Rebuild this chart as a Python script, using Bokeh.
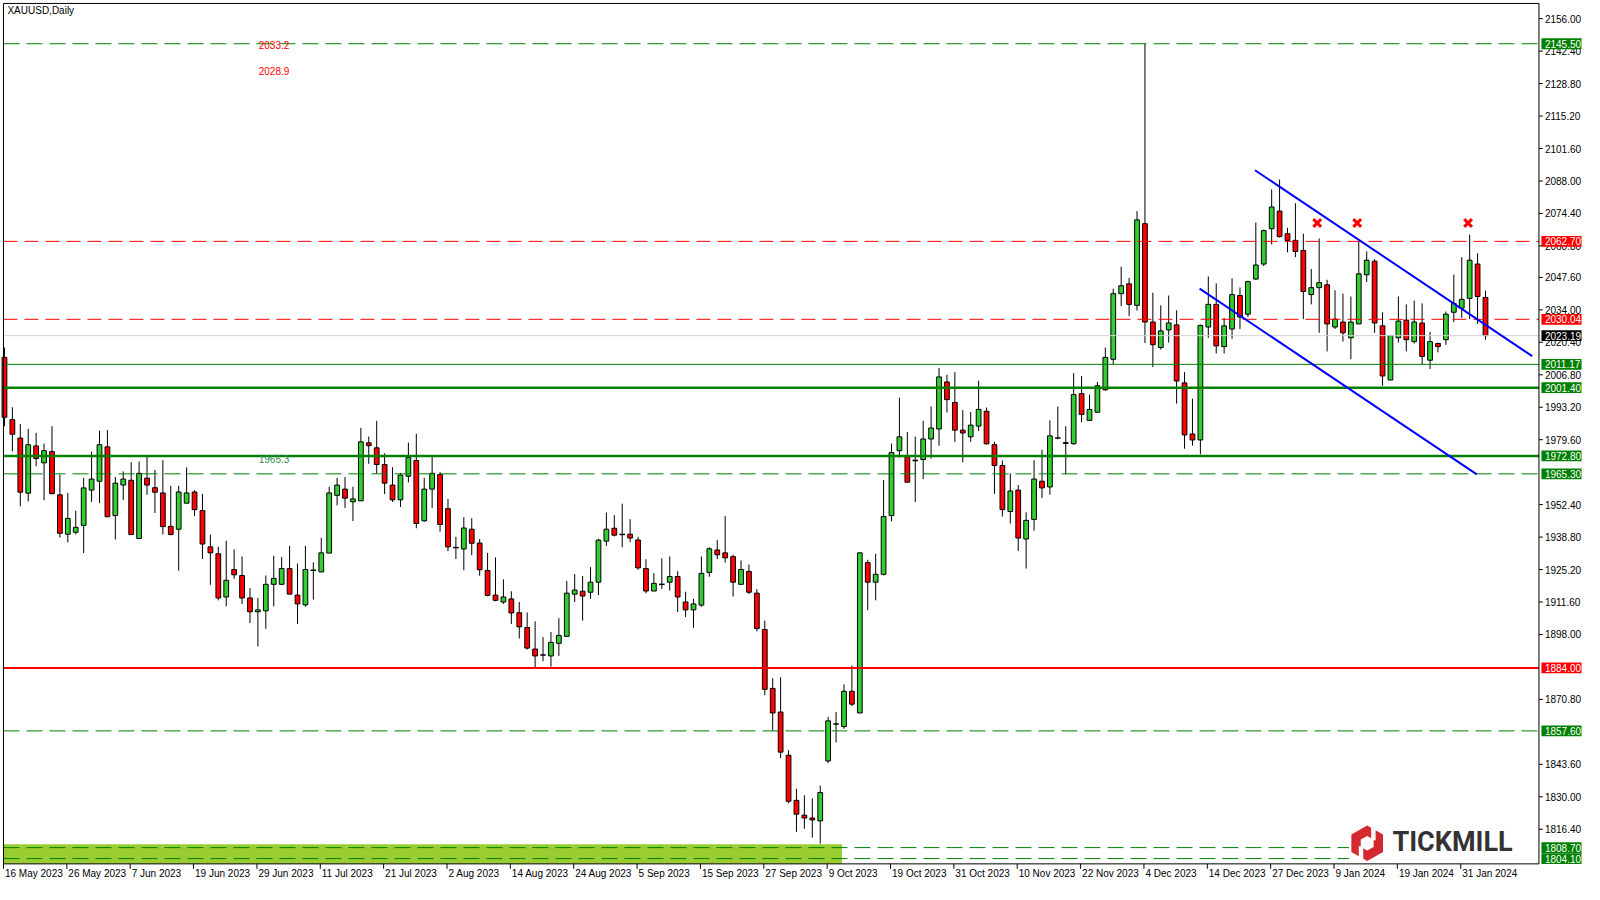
from bokeh.plotting import figure
from bokeh.models import Range1d
from bokeh.core.properties import value
from bokeh.embed import file_html
from bokeh.resources import INLINE

# ---------------- data ----------------
date_labels = ["16 May 2023", "26 May 2023", "7 Jun 2023", "19 Jun 2023", "29 Jun 2023",
               "11 Jul 2023", "21 Jul 2023", "2 Aug 2023", "14 Aug 2023", "24 Aug 2023",
               "5 Sep 2023", "15 Sep 2023", "27 Sep 2023", "9 Oct 2023", "19 Oct 2023",
               "31 Oct 2023", "10 Nov 2023", "22 Nov 2023", "4 Dec 2023", "14 Dec 2023",
               "27 Dec 2023", "9 Jan 2024", "19 Jan 2024", "31 Jan 2024"]
label_every = 8

opens = [2014.1, 1988.0, 1980.3, 1957.2, 1977.0, 1969.9, 1974.6, 1956.5, 1940.0, 1940.8,
         1943.7, 1958.5, 1962.2, 1976.6, 1947.8, 1960.6, 1962.6, 1938.2, 1963.5, 1959.5,
         1957.3, 1943.3, 1942.1, 1953.0, 1957.7, 1949.9, 1934.7, 1931.8, 1913.7, 1925.2,
         1922.7, 1913.3, 1907.5, 1907.9, 1919.0, 1919.0, 1925.6, 1914.5, 1910.4, 1924.9,
         1924.2, 1932.1, 1956.3, 1958.9, 1953.6, 1954.0, 1978.3, 1976.2, 1969.2, 1960.6,
         1954.4, 1964.3, 1970.9, 1945.6, 1958.9, 1965.0, 1950.7, 1934.4, 1933.8, 1942.1,
         1936.3, 1924.8, 1914.5, 1911.6, 1912.9, 1907.1, 1900.9, 1891.9, 1889.4, 1889.0,
         1894.3, 1897.2, 1914.9, 1916.1, 1915.7, 1919.9, 1937.1, 1942.5, 1939.9, 1940.0,
         1937.6, 1925.6, 1916.2, 1919.0, 1919.9, 1922.3, 1911.6, 1908.3, 1910.3, 1924.0,
         1933.4, 1932.2, 1930.6, 1919.0, 1924.4, 1915.3, 1900.1, 1875.4, 1865.5, 1847.4,
         1828.5, 1822.3, 1821.1, 1819.9, 1845.0, 1860.5, 1859.4, 1874.2, 1865.1, 1928.1,
         1919.9, 1923.2, 1947.8, 1975.0, 1972.5, 1970.9, 1971.3, 1979.9, 1984.1, 2003.8,
         1995.2, 1983.6, 1980.8, 1985.3, 1991.5, 1977.5, 1968.8, 1949.5, 1958.5, 1938.0,
         1946.2, 1962.2, 1959.8, 1980.3, 1978.4, 1977.9, 1998.9, 1987.7, 1991.1, 2000.5,
         2013.3, 2040.8, 2044.9, 2035.9, 2070.1, 2028.9, 2018.2, 2025.6, 2027.7, 2003.4,
         1982.0, 1979.5, 2026.8, 2036.3, 2018.6, 2026.0, 2040.0, 2032.2, 2046.9, 2053.2,
         2068.0, 2075.4, 2065.9, 2063.1, 2058.9, 2040.4, 2043.3, 2044.5, 2026.8, 2028.9,
         2022.3, 2028.1, 2048.7, 2054.4, 2027.3, 2004.6, 2022.3, 2029.7, 2020.7, 2028.5,
         2012.9, 2019.9, 2021.5, 2033.0, 2034.7, 2038.8, 2053.2, 2039.2]
highs = [2018.2, 1993.2, 1986.2, 1984.2, 1982.5, 1978.0, 1985.3, 1965.0, 1957.3, 1949.9,
         1963.6, 1974.6, 1983.4, 1983.6, 1964.0, 1966.3, 1970.2, 1970.5, 1972.9, 1966.9,
         1971.0, 1960.3, 1960.3, 1968.0, 1958.5, 1956.9, 1939.8, 1934.7, 1937.3, 1933.6,
         1930.7, 1917.4, 1913.3, 1922.7, 1931.0, 1930.5, 1935.1, 1927.7, 1935.1, 1928.2,
         1938.5, 1959.9, 1963.6, 1964.0, 1959.9, 1984.6, 1980.9, 1987.5, 1973.9, 1968.1,
         1965.7, 1978.4, 1982.1, 1963.6, 1972.7, 1966.1, 1954.8, 1938.9, 1947.1, 1946.7,
         1938.0, 1932.2, 1930.3, 1921.1, 1916.1, 1911.6, 1907.2, 1903.5, 1896.9, 1899.0,
         1904.8, 1920.4, 1923.3, 1922.5, 1926.2, 1938.1, 1949.1, 1948.0, 1952.8, 1946.3,
         1938.9, 1929.5, 1923.7, 1929.9, 1930.7, 1924.5, 1915.9, 1912.9, 1930.7, 1934.5,
         1937.6, 1947.6, 1931.4, 1929.0, 1927.3, 1917.0, 1903.8, 1879.7, 1880.1, 1849.5,
         1833.4, 1830.6, 1829.3, 1834.7, 1863.5, 1865.5, 1877.1, 1885.0, 1932.2, 1929.3,
         1931.8, 1962.7, 1978.0, 1997.2, 1982.8, 1980.9, 1987.5, 1993.5, 2009.7, 2006.8,
         2007.9, 1992.0, 1991.2, 2004.3, 1993.1, 1978.7, 1970.9, 1965.5, 1960.6, 1949.2,
         1971.0, 1975.4, 1987.7, 1993.5, 1985.3, 2007.5, 2006.3, 1998.5, 2003.8, 2018.2,
         2042.9, 2052.1, 2047.4, 2075.4, 2145.5, 2041.2, 2035.9, 2040.0, 2033.8, 2007.9,
         1996.8, 2027.8, 2048.0, 2045.1, 2030.6, 2047.2, 2043.4, 2046.2, 2070.6, 2067.6,
         2084.5, 2088.6, 2068.4, 2078.7, 2065.9, 2051.1, 2063.9, 2046.6, 2042.2, 2040.8,
         2039.6, 2062.6, 2058.5, 2055.2, 2033.0, 2023.2, 2039.6, 2036.3, 2037.9, 2036.7,
         2024.8, 2020.3, 2033.3, 2048.8, 2056.1, 2065.5, 2057.7, 2042.1]
lows = [1985.3, 1974.7, 1951.7, 1953.7, 1968.5, 1954.2, 1956.7, 1938.6, 1936.6, 1939.9,
        1932.1, 1953.5, 1953.0, 1947.3, 1937.8, 1954.3, 1939.9, 1938.2, 1956.5, 1948.9,
        1939.9, 1939.5, 1924.7, 1953.0, 1947.6, 1929.6, 1918.8, 1912.3, 1909.8, 1921.3,
        1910.7, 1902.8, 1893.0, 1900.4, 1909.8, 1919.0, 1914.9, 1902.4, 1909.6, 1912.6,
        1924.2, 1932.1, 1952.1, 1951.0, 1945.5, 1954.0, 1969.5, 1965.3, 1956.8, 1953.5,
        1951.4, 1961.7, 1942.5, 1945.2, 1951.0, 1941.1, 1932.9, 1929.6, 1924.9, 1931.2,
        1922.6, 1914.0, 1911.9, 1910.8, 1902.4, 1896.3, 1891.7, 1883.8, 1886.8, 1884.5,
        1889.0, 1897.2, 1911.6, 1903.8, 1912.9, 1914.5, 1935.1, 1939.1, 1934.5, 1936.6,
        1925.1, 1915.2, 1916.2, 1917.1, 1916.4, 1907.4, 1905.3, 1900.8, 1909.6, 1922.2,
        1929.6, 1928.1, 1913.9, 1919.0, 1914.9, 1899.3, 1872.5, 1857.7, 1846.2, 1827.3,
        1815.3, 1816.6, 1812.9, 1810.4, 1844.1, 1852.8, 1858.5, 1868.0, 1865.1, 1908.2,
        1912.3, 1922.7, 1945.4, 1972.1, 1961.8, 1953.5, 1963.1, 1971.7, 1977.1, 1991.0,
        1978.7, 1970.1, 1978.7, 1983.2, 1977.5, 1956.9, 1947.4, 1944.5, 1933.0, 1925.6,
        1941.5, 1955.2, 1956.5, 1979.8, 1965.1, 1977.5, 1986.9, 1987.7, 1991.1, 2000.1,
        2011.2, 2035.5, 2031.4, 2033.7, 2020.1, 2010.0, 2017.4, 2020.3, 1994.7, 1975.8,
        1977.1, 1973.5, 2022.3, 2015.7, 2015.7, 2021.9, 2026.0, 2031.0, 2046.6, 2052.4,
        2061.4, 2064.3, 2058.1, 2056.1, 2030.1, 2036.3, 2024.4, 2016.6, 2026.0, 2020.7,
        2013.3, 2028.1, 2045.6, 2024.4, 2002.2, 2004.6, 2020.3, 2016.6, 2019.9, 2011.2,
        2009.2, 2016.2, 2019.3, 2028.9, 2030.6, 2030.1, 2028.1, 2021.5]
closes = [1989.0, 1981.9, 1957.6, 1977.5, 1971.7, 1975.0, 1957.0, 1940.4, 1946.6, 1942.9,
          1959.4, 1963.1, 1977.5, 1947.3, 1961.4, 1963.1, 1939.9, 1965.5, 1960.6, 1957.6,
          1943.2, 1939.9, 1957.7, 1957.3, 1950.3, 1935.9, 1932.2, 1913.3, 1920.7, 1923.0,
          1913.3, 1907.5, 1908.3, 1919.0, 1921.5, 1925.6, 1914.9, 1910.8, 1925.2, 1924.9,
          1932.2, 1957.3, 1960.6, 1955.1, 1954.8, 1978.7, 1977.1, 1969.2, 1961.4, 1954.4,
          1964.8, 1972.1, 1944.5, 1958.9, 1965.5, 1944.1, 1934.7, 1934.4, 1942.6, 1936.2,
          1925.1, 1914.4, 1912.3, 1913.7, 1907.0, 1901.2, 1892.3, 1889.0, 1889.4, 1894.7,
          1897.6, 1915.3, 1916.6, 1914.1, 1919.9, 1937.5, 1942.1, 1939.6, 1939.9, 1938.4,
          1925.9, 1916.2, 1919.4, 1919.0, 1922.3, 1913.7, 1908.3, 1910.8, 1923.6, 1933.9,
          1931.4, 1930.1, 1919.9, 1925.2, 1915.7, 1900.5, 1875.0, 1865.1, 1848.7, 1828.1,
          1822.7, 1821.1, 1820.3, 1831.8, 1861.8, 1860.5, 1874.2, 1868.8, 1932.2, 1919.9,
          1923.2, 1947.4, 1974.2, 1980.8, 1961.8, 1970.9, 1979.9, 1984.5, 2005.9, 1996.4,
          1983.6, 1982.4, 1985.7, 1992.3, 1977.9, 1968.8, 1950.3, 1958.1, 1938.4, 1945.8,
          1963.1, 1959.4, 1981.2, 1980.3, 1978.0, 1998.5, 1990.2, 1992.3, 2002.2, 2014.1,
          2040.8, 2044.1, 2036.3, 2071.7, 2028.9, 2019.4, 2025.2, 2028.5, 2004.2, 1981.6,
          1979.5, 2027.5, 2036.3, 2018.9, 2027.3, 2040.4, 2031.0, 2045.8, 2052.8, 2067.2,
          2077.1, 2064.7, 2063.1, 2058.5, 2041.7, 2043.3, 2045.4, 2028.1, 2030.1, 2024.4,
          2028.9, 2049.1, 2054.8, 2028.5, 2006.3, 2023.2, 2029.3, 2021.5, 2028.9, 2014.5,
          2020.7, 2018.6, 2032.2, 2036.7, 2038.4, 2054.8, 2039.6, 2023.2]

# horizontal price levels drawn on the chart
level_prices = [2145.50, 2062.70, 2030.04, 2023.19, 2011.17, 2001.40, 1972.80, 1965.30,
                1884.00, 1857.60, 1808.70, 1804.10]
level_texts = ["2145.50", "2062.70", "2030.04", "2023.19", "2011.17", "2001.40", "1972.80",
               "1965.30", "1884.00", "1857.60", "1808.70", "1804.10"]
# styles for the levels (kept apart from the values)
level_colors = ["green", "red", "red", "#d3d3d3", "green", "green", "green", "green",
                "red", "green", "green", "green"]
level_box_colors = ["#008000", "#ff0000", "#ff0000", "#000000", "#008000", "#008000",
                    "#008000", "#008000", "#ff0000", "#008000", "#008000", "#008000"]
level_dashes = ["16 7", "14 7", "14 7", "solid", "solid", "solid", "solid", "16 7",
                "solid", "16 7", "16 7", "16 7"]
level_widths = [1, 1, 1, 1, 1, 2.5, 2.5, 1, 2, 1, 1, 1]

y_ticks = [2156.00, 2142.40, 2128.80, 2115.20, 2101.60, 2088.00, 2074.40, 2060.80, 2047.60,
           2034.00, 2020.40, 2006.80, 1993.20, 1979.60, 1952.40, 1938.80, 1925.20, 1911.60,
           1898.00, 1870.80, 1843.60, 1830.00, 1816.40]

# support zone (green band): bar index end and price top
zone_right = 105.75
zone_top = 1810.1

# channel trend lines (bar index, price)
upper_x = [157.9, 192.9]
upper_y = [2092.5, 2014.6]
lower_x = [150.9, 185.9]
lower_y = [2042.9, 1965.1]

# red cross markers
cross_x = [165.75, 170.8, 184.8]
cross_y = [2070.4, 2070.4, 2070.4]

# leftover price texts on the chart
note_texts = ["2033.2", "2028.9", "1965.3"]
note_x = [32.1, 32.1, 32.1]
note_y = [2145.1, 2134.2, 1971.6]

# ---------------- geometry of the picture ----------------
# reference-pixel -> data helpers (bar index / price), used for furniture placement
BAR_PX, BAR0_PX = 8.0, 4.0
PRICE_PX, P_REF, P_REF_PX = 2.43, 2156.0, 18.5


def bx(px):
    return (px - BAR0_PX) / BAR_PX


def py(px):
    return P_REF - (px - P_REF_PX) / PRICE_PX


PLOT_L, PLOT_R = bx(3), bx(1554)
PLOT_T, PLOT_B = py(3), py(879)

p = figure(x_range=Range1d(bx(0), bx(1600)), y_range=Range1d(py(900), py(0)),
           frame_width=1584, frame_height=884, min_border=0,
           x_axis_location=None, y_axis_location=None,
           output_backend="svg", toolbar_location=None)
p.background_fill_color = "white"
p.border_fill_color = "white"
p.outline_line_color = None
p.xgrid.visible = False
p.ygrid.visible = False

FONT = "Liberation Sans"

# support zone
p.quad(left=[PLOT_L], right=[zone_right], bottom=[PLOT_B], top=[zone_top],
       fill_color="#9acd32", line_color=None)

# candles
idx = list(range(len(opens)))
p.segment(x0=idx, y0=lows, x1=idx, y1=highs, line_color="black", line_width=1)
bxs, btop, bbot, bcol = [], [], [], []
dxs, dys = [], []
for i, o, c in zip(idx, opens, closes):
    if abs(c - o) < 0.3:
        dxs.append(i)
        dys.append(o)
    else:
        bxs.append(i)
        btop.append(max(o, c))
        bbot.append(min(o, c))
        bcol.append("#32cd32" if c > o else "#ff0000")
p.vbar(x=bxs, width=0.6, top=btop, bottom=bbot, fill_color=bcol, line_color="black",
       line_width=1)
p.segment(x0=[v - 0.35 for v in dxs], y0=dys, x1=[v + 0.35 for v in dxs], y1=dys,
          line_color="black", line_width=1.5)

# horizontal levels
for lv, col, dash, w in zip(level_prices, level_colors, level_dashes, level_widths):
    p.segment(x0=[PLOT_L], y0=[lv], x1=[PLOT_R], y1=[lv], line_color=col,
              line_width=w, line_dash=dash)

# logo (white plate + hexagon mark + word)
PX = 1 / BAR_PX
PY = 1 / PRICE_PX
logo_cx, logo_cy = bx(1380.5), py(858)
p.quad(left=[bx(1362)], right=[PLOT_R], bottom=[PLOT_B], top=[py(836)],
       fill_color="white", line_color=None)


def poly(pts):
    return ([logo_cx + a * PX for a, b in pts], [logo_cy - b * PY for a, b in pts])


outer = [(0, -18), (16, -9), (16, 9), (0, 18), (-16, 9), (-16, -9)]
inner = [(0, -7.5), (6.5, -3.75), (6.5, 3.75), (0, 7.5), (-6.5, 3.75), (-6.5, -3.75)]
cut1 = [(4, -20), (8.5, -20), (8.5, -3), (4, -3)]
cut2 = [(-8.5, 3), (-4, 3), (-4, 20), (-8.5, 20)]
ox, oy = poly(outer)
p.patch(ox, oy, fill_color="#d42a2f", line_color=None)
for shp in (inner, cut1, cut2):
    sx, sy = poly(shp)
    p.patch(sx, sy, fill_color="white", line_color=None)
p.text(x=[bx(1406)], y=[py(857)], text=["TICKMILL"], text_font=value("Roboto"),
       text_font_style="bold", text_font_size="27px", text_color="#333333",
       text_baseline="middle", text_align="left")

# channel lines
p.line(upper_x, upper_y, line_color="blue", line_width=2)
p.line(lower_x, lower_y, line_color="blue", line_width=2)

# crosses
p.scatter(cross_x, cross_y, marker="x", size=11, line_color="red", line_width=3)

# note texts
p.text(x=note_x, y=note_y, text=note_texts, text_font=value(FONT), text_font_size="10px",
       text_color=["#ff0000", "#ff0000", "#2e8b57"], text_baseline="middle",
       text_align="left")

# title
p.text(x=[bx(7)], y=[py(10)], text=["XAUUSD,Daily"], text_font=value(FONT),
       text_font_size="10px", text_color="black", text_baseline="middle",
       text_align="left")

# plot frame and axis lines
p.segment(x0=[PLOT_L, PLOT_L, PLOT_L, PLOT_R], y0=[PLOT_B, PLOT_T, PLOT_B, PLOT_B],
          x1=[PLOT_L, PLOT_R, PLOT_R, PLOT_R], y1=[PLOT_T, PLOT_T, PLOT_B, PLOT_T],
          line_color="black", line_width=1)

# x axis: ticks and date labels
xt = [i * label_every for i in range(len(date_labels))]
p.segment(x0=[t - PX for t in xt], y0=[PLOT_B] * len(xt), x1=[t - PX for t in xt],
          y1=[py(884)] * len(xt), line_color="black", line_width=1)
p.text(x=[t + 0.5 * PX for t in xt], y=[py(889)] * len(xt), text=date_labels,
       text_font=value(FONT), text_font_size="10px", text_color="black",
       text_baseline="middle", text_align="left")

# y axis: ticks and price labels
p.segment(x0=[PLOT_R] * len(y_ticks), y0=y_ticks, x1=[bx(1558)] * len(y_ticks), y1=y_ticks,
          line_color="black", line_width=1)
p.text(x=[bx(1560)] * len(y_ticks), y=y_ticks, text=[f"{v:.2f}" for v in y_ticks],
       text_font=value(FONT), text_font_size="10px", text_color="black",
       text_baseline="middle", text_align="left")

# price boxes on the right axis
half = 5.5 * PY
p.quad(left=[bx(1556.5)] * len(level_prices), right=[bx(1597)] * len(level_prices),
       bottom=[v - half for v in level_prices], top=[v + half for v in level_prices],
       fill_color=level_box_colors, line_color=None)
p.text(x=[bx(1560)] * len(level_prices), y=level_prices, text=level_texts,
       text_font=value(FONT), text_font_size="10px", text_color="white",
       text_baseline="middle", text_align="left")

open("out.html", "w").write(file_html(p, INLINE))
